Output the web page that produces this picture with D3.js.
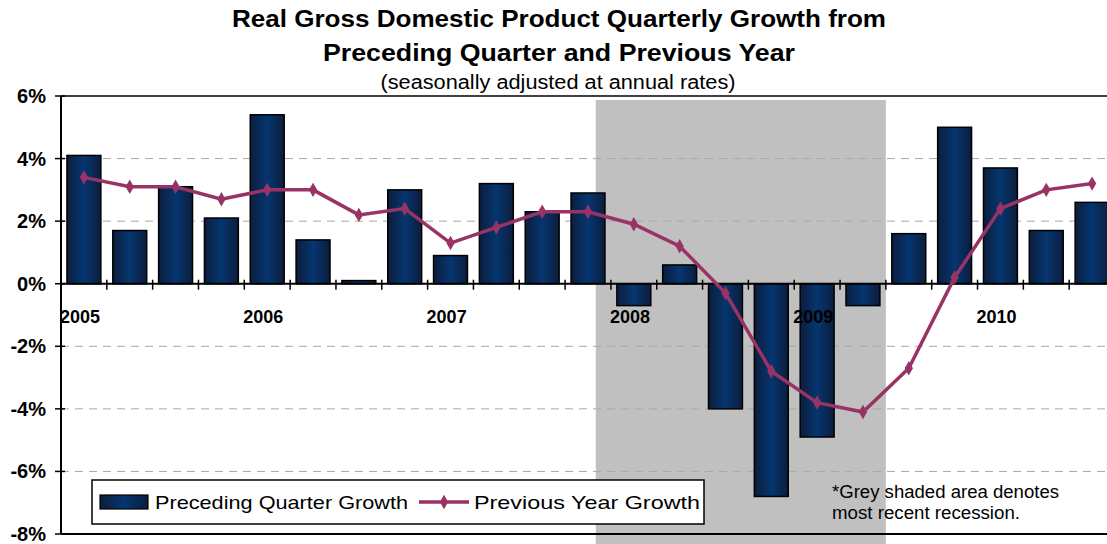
<!DOCTYPE html>
<html>
<head>
<meta charset="utf-8">
<script src="https://cdn.jsdelivr.net/npm/d3@7"></script>
<style>
  body { margin: 0; background: #fff; }
  svg { display: block; font-family: "Liberation Sans", Arial, sans-serif; }
</style>
</head>
<body>
<svg id="chart" width="1107" height="544"></svg>
<script>
// quarters 2005Q1 .. 2010Q3
const quarters = ["2005Q1","2005Q2","2005Q3","2005Q4","2006Q1","2006Q2","2006Q3","2006Q4",
    "2007Q1","2007Q2","2007Q3","2007Q4","2008Q1","2008Q2","2008Q3","2008Q4",
    "2009Q1","2009Q2","2009Q3","2009Q4","2010Q1","2010Q2","2010Q3"];
const quarterGrowth = [4.1, 1.7, 3.1, 2.1, 5.4, 1.4, 0.1, 3.0, 0.9, 3.2, 2.3, 2.9,
    -0.7, 0.6, -4.0, -6.8, -4.9, -0.7, 1.6, 5.0, 3.7, 1.7, 2.6];
const yearGrowth = [3.4, 3.1, 3.1, 2.7, 3.0, 3.0, 2.2, 2.4, 1.3, 1.8, 2.3, 2.3,
    1.9, 1.2, -0.3, -2.8, -3.8, -4.1, -2.7, 0.2, 2.4, 3.0, 3.2];
const yearLabels = ["2005", "2006", "2007", "2008", "2009", "2010"];
const yTicks = [6, 4, 2, 0, -2, -4, -6, -8];
// recession, in quarter units from 2005Q1 start (Dec 2007 to Jun 2009)
const recession = [11.67, 18];

const svg = d3.select("#chart");
const plotLeft = 61, plotRight = 1115, plotTop = 96, plotBottom = 534;

const x = d3.scaleBand()
    .domain(quarters)
    .range([plotLeft, plotRight])
    .paddingInner(0.26)
    .paddingOuter(0.13);
const step = x.step();
const y = d3.scaleLinear().domain([-8, 6]).range([plotBottom, plotTop]);

// gradient for bars
const defs = svg.append("defs");
const grad = defs.append("linearGradient").attr("id", "barGrad")
    .attr("x1", "0%").attr("x2", "100%").attr("y1", "0%").attr("y2", "0%");
grad.append("stop").attr("offset", "0%").attr("stop-color", "#0c1d3c");
grad.append("stop").attr("offset", "50%").attr("stop-color", "#053670");
grad.append("stop").attr("offset", "100%").attr("stop-color", "#0c1d3c");

// recession shading
const qpos = d3.scaleLinear().domain([0, quarters.length]).range([plotLeft, plotLeft + step * quarters.length]);
svg.append("rect")
    .attr("x", qpos(recession[0]))
    .attr("y", plotTop + 4)
    .attr("width", qpos(recession[1]) - qpos(recession[0]))
    .attr("height", 544 - plotTop - 4)
    .attr("fill", "#c0c0c0");

// gridlines
svg.append("g").selectAll("line")
    .data(yTicks.filter(d => d !== 0 && d !== 6 && d !== -8))
    .join("line")
    .attr("x1", plotLeft).attr("x2", 1107)
    .attr("y1", d => y(d)).attr("y2", d => y(d))
    .attr("stroke", "#a8a8a8")
    .attr("stroke-width", 1)
    .attr("stroke-dasharray", "8,6");

// frame lines top/bottom
svg.append("line").attr("x1", plotLeft).attr("x2", 1107).attr("y1", y(6)).attr("y2", y(6))
    .attr("stroke", "#000").attr("stroke-width", 1.5);
svg.append("line").attr("x1", plotLeft).attr("x2", 1107).attr("y1", y(-8)).attr("y2", y(-8))
    .attr("stroke", "#000").attr("stroke-width", 2);

// bars
svg.append("g").selectAll("rect")
    .data(quarterGrowth)
    .join("rect")
    .attr("x", (d, i) => x(quarters[i]))
    .attr("width", x.bandwidth())
    .attr("y", d => y(Math.max(0, d)))
    .attr("height", d => Math.abs(y(d) - y(0)))
    .attr("fill", "url(#barGrad)")
    .attr("stroke", "#000")
    .attr("stroke-width", 1.5);

// zero axis with ticks
svg.append("line").attr("x1", plotLeft).attr("x2", 1107).attr("y1", y(0)).attr("y2", y(0))
    .attr("stroke", "#000").attr("stroke-width", 2);
svg.append("g").selectAll("line")
    .data(d3.range(1, quarters.length))
    .join("line")
    .attr("x1", d => qpos(d)).attr("x2", d => qpos(d))
    .attr("y1", y(0) - 4).attr("y2", y(0) + 6)
    .attr("stroke", "#000").attr("stroke-width", 1.5);

// y axis
const yAxis = svg.append("g");
yAxis.append("line").attr("x1", plotLeft).attr("x2", plotLeft).attr("y1", y(6)).attr("y2", y(-8))
    .attr("stroke", "#000").attr("stroke-width", 2);
yAxis.selectAll("line.tick")
    .data(yTicks)
    .join("line")
    .attr("class", "tick")
    .attr("x1", plotLeft - 6).attr("x2", plotLeft + 4)
    .attr("y1", d => y(d)).attr("y2", d => y(d))
    .attr("stroke", "#000").attr("stroke-width", 1.5);
yAxis.selectAll("text")
    .data(yTicks)
    .join("text")
    .attr("x", 46)
    .attr("y", d => y(d) + 7)
    .attr("text-anchor", "end")
    .attr("font-size", 20)
    .attr("font-weight", "bold")
    .text(d => d + "%");

// year labels
svg.append("g").selectAll("text")
    .data(yearLabels)
    .join("text")
    .attr("x", (d, i) => qpos(i * 4) - 1)
    .attr("y", 323)
    .attr("font-size", 18)
    .attr("font-weight", "bold")
    .text(d => d);

// line series
const line = d3.line()
    .x((d, i) => x(quarters[i]) + x.bandwidth() / 2)
    .y(d => y(d));
svg.append("path")
    .datum(yearGrowth)
    .attr("d", line)
    .attr("fill", "none")
    .attr("stroke", "#993366")
    .attr("stroke-width", 3.5);
svg.append("g").selectAll("path")
    .data(yearGrowth)
    .join("path")
    .attr("d", d3.symbol(d3.symbolDiamond, 60))
    .attr("transform", (d, i) => `translate(${x(quarters[i]) + x.bandwidth() / 2},${y(d)})`)
    .attr("fill", "#993366");

// titles
svg.append("text").attr("x", 559).attr("y", 27).attr("text-anchor", "middle")
    .attr("font-size", 23.5).attr("font-weight", "bold")
    .attr("textLength", 654).attr("lengthAdjust", "spacingAndGlyphs")
    .text("Real Gross Domestic Product Quarterly Growth from");
svg.append("text").attr("x", 559).attr("y", 61).attr("text-anchor", "middle")
    .attr("font-size", 23.5).attr("font-weight", "bold")
    .attr("textLength", 472).attr("lengthAdjust", "spacingAndGlyphs")
    .text("Preceding Quarter and Previous Year");
svg.append("text").attr("x", 558).attr("y", 89).attr("text-anchor", "middle")
    .attr("font-size", 19.5)
    .attr("textLength", 355).attr("lengthAdjust", "spacingAndGlyphs")
    .text("(seasonally adjusted at annual rates)");

// legend
const lg = svg.append("g");
lg.append("rect").attr("x", 92).attr("y", 480).attr("width", 612).attr("height", 44)
    .attr("fill", "#fff").attr("stroke", "#000").attr("stroke-width", 1.5);
lg.append("rect").attr("x", 100).attr("y", 495).attr("width", 48).attr("height", 14)
    .attr("fill", "url(#barGrad)").attr("stroke", "#000").attr("stroke-width", 1.2);
lg.append("text").attr("x", 155).attr("y", 508.5).attr("font-size", 19)
    .attr("textLength", 253).attr("lengthAdjust", "spacingAndGlyphs")
    .text("Preceding Quarter Growth");
lg.append("line").attr("x1", 419).attr("x2", 469).attr("y1", 502).attr("y2", 502)
    .attr("stroke", "#993366").attr("stroke-width", 3.5);
lg.append("path").attr("d", d3.symbol(d3.symbolDiamond, 60))
    .attr("transform", "translate(444,502)").attr("fill", "#993366");
lg.append("text").attr("x", 474).attr("y", 508.5).attr("font-size", 19)
    .attr("textLength", 226).attr("lengthAdjust", "spacingAndGlyphs")
    .text("Previous Year Growth");

// note
const note = svg.append("text").attr("font-size", 17.5);
note.append("tspan").attr("x", 832).attr("y", 498)
    .attr("textLength", 227).attr("lengthAdjust", "spacingAndGlyphs")
    .text("*Grey shaded area denotes");
note.append("tspan").attr("x", 832).attr("y", 519)
    .attr("textLength", 188).attr("lengthAdjust", "spacingAndGlyphs")
    .text("most recent recession.");
</script>
</body>
</html>
